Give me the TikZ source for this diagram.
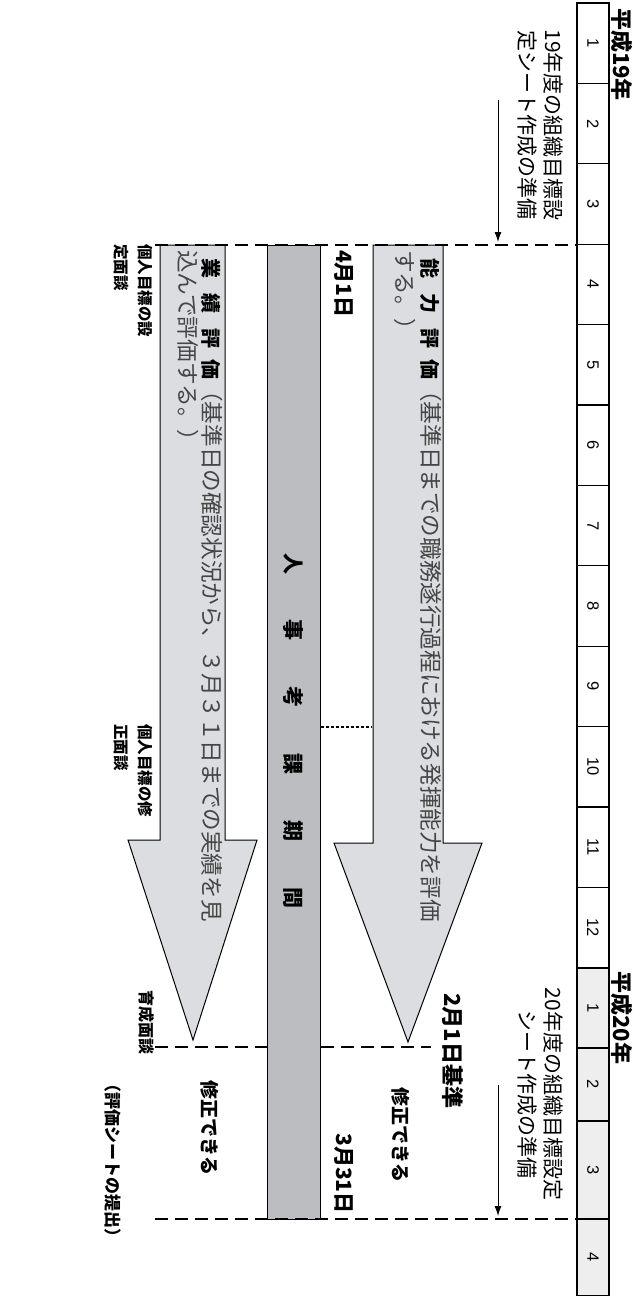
\documentclass[tikz,border=0pt]{standalone}
\usepackage{fontspec}
\setmainfont{Noto Sans CJK JP}
\newfontfamily\lat{Liberation Sans}
\usetikzlibrary{arrows.meta}
\definecolor{arrowfill}{HTML}{DCDDE0}
\definecolor{barfill}{HTML}{BCBDC1}
\definecolor{cellfill}{HTML}{EEEEEE}
\definecolor{lighttxt}{HTML}{454545}
\begin{document}
\begin{tikzpicture}[x=1pt,y=1pt,
  monthcell/.style={draw, line width=1.1pt, inner sep=0, minimum height=32pt, font=\lat\fontsize{16.5}{18}\selectfont},
  hdr/.style={font=\bfseries\fontsize{22}{24}\selectfont, inner sep=0, anchor=west},
  note/.style={font=\fontsize{21}{26}\selectfont, align=center, inner sep=0},
  blabel/.style={font=\bfseries\fontsize{21}{24}\selectfont, inner sep=0},
  slabel/.style={font=\bfseries\fontsize{15.5}{18}\selectfont, inner sep=0, anchor=west},
  atext/.style={inner sep=0, anchor=west},
  bigarrow/.style={draw=black, line width=1pt, fill=arrowfill, line join=miter},
  dashline/.style={line width=2.4pt, dash pattern=on 13pt off 7pt},
  dotline/.style={line width=1.6pt, dash pattern=on 3pt off 2pt},
  smallarrow/.style={line width=1pt, -{Latex[length=10pt,width=7pt]}}]
\useasboundingbox (0,0) rectangle (644,-1296);
\begin{scope}[rotate=-90, transform shape]
% ---- month bar (landscape coords: (image y, image x)) ----
\foreach \i in {1,...,12}{
  \node[monthcell, minimum width=80.4pt] (m\i) at ({3+80.4*(\i-0.5)},593) {\i};
}
\node[monthcell, fill=cellfill, minimum width=80pt] (n1) at (1008,593) {1};
\node[monthcell, fill=cellfill, minimum width=73pt] (n2) at (1084.5,593) {2};
\node[monthcell, fill=cellfill, minimum width=98pt] (n3) at (1170,593) {3};
\node[monthcell, fill=cellfill, minimum width=77pt] (n4) at (1257.5,593) {4};
\node[hdr] (h19) at (8,622) {平成19年};
\node[hdr] (h20) at (971,622) {平成20年};
% ---- preparation notes ----
\node[note] (p19) at (125,540) {19年度の組織目標設\\定シート作成の準備};
\node[note] (p20) at (1094,540) {20年度の組織目標設定\\シート作成の準備};
\coordinate (sa1s) at (100,498); \coordinate (sa1e) at (242,498);
\coordinate (sa2s) at (1085,498); \coordinate (sa2e) at (1216,498);
\draw[smallarrow] (sa1s) -- (sa1e);
\draw[smallarrow] (sa2s) -- (sa2e);
% ---- big arrows ----
\draw[bigarrow] (245,443) -- (843,443) -- (843,482) -- (1042,408) -- (843,334) -- (843,373) -- (245,373) -- cycle;
\draw[bigarrow] (245,225) -- (840,225) -- (840,257) -- (1040,193) -- (840,128) -- (840,160) -- (245,160) -- cycle;
% ---- evaluation period bar ----
\node[draw=black, line width=1pt, fill=barfill, minimum width=974pt, minimum height=53pt, inner sep=0] (bar) at (732,293.5) {};
\node[blabel, font=\bfseries\fontsize{21}{24}\selectfont] (barlab) at (731,293) {人\hspace{46pt}事\hspace{46pt}考\hspace{46pt}課\hspace{46pt}期\hspace{46pt}間};
% ---- dashed and dotted lines ----
\coordinate (d1a) at (245,155); \coordinate (d1b) at (245,577);
\coordinate (d2a) at (1219,155); \coordinate (d2b) at (1219,577);
\coordinate (d3a) at (1047,321); \coordinate (d3b) at (1047,431);
\coordinate (d4a) at (1047,155); \coordinate (d4b) at (1047,267);
\coordinate (t1a) at (727,321); \coordinate (t1b) at (727,372);
\draw[dashline] (d1a) -- (d1b);
\draw[dashline] (d2a) -- (d2b);
\draw[dashline] (d3a) -- (d3b);
\draw[dashline] (d4a) -- (d4b);
\draw[dotline] (t1a) -- (t1b);
% ---- arrow texts ----
\node[atext] (a1l1) at (258,431) {{\bfseries\fontsize{20}{22}\selectfont 能\hspace{15pt}力\hspace{15pt}評\hspace{11pt}価}{\color{lighttxt}\fontsize{22.6}{26}\selectfont （基準日までの職務遂行過程における発揮能力を評価}};
\node[atext] (a1l2) at (250,405) {\color{lighttxt}\fontsize{22.6}{26}\selectfont する。）};
\node[atext] (a2l1) at (258,212) {{\bfseries\fontsize{20}{22}\selectfont 業\hspace{15pt}績\hspace{15pt}評\hspace{11pt}価}{\color{lighttxt}\fontsize{22.6}{26}\selectfont （基準日の確認状況から、３月３１日までの実績を見}};
\node[atext] (a2l2) at (250,188) {\color{lighttxt}\fontsize{22.6}{26}\selectfont 込んで評価する。）};
% ---- date labels ----
\node[blabel, anchor=west] (d41) at (250,344) {4月1日};
\node[blabel, anchor=west] (d331) at (1133,344) {3月31日};
\node[blabel, anchor=west, font=\bfseries\fontsize{22}{24}\selectfont] (d21) at (993,453) {2月1日基準};
\node[blabel, font=\bfseries\fontsize{19}{22}\selectfont] (sy1) at (1135,401) {修正できる};
\node[blabel, font=\bfseries\fontsize{19}{22}\selectfont] (sy2) at (1128,210) {修正できる};
\node[blabel, font=\bfseries\fontsize{17}{22}\selectfont] (sheet) at (1160,113) {（評価シートの提出）};
% ---- interview labels ----
\node[slabel] (i1a) at (244,145) {個人目標の設};
\node[slabel] (i1b) at (244,121) {定面談};
\node[slabel] (i2a) at (724,145) {個人目標の修};
\node[slabel] (i2b) at (724,121) {正面談};
\node[slabel, font=\bfseries\fontsize{16}{18}\selectfont] (i3) at (990,147) {育成面談};
\end{scope}
\end{tikzpicture}
\end{document}
